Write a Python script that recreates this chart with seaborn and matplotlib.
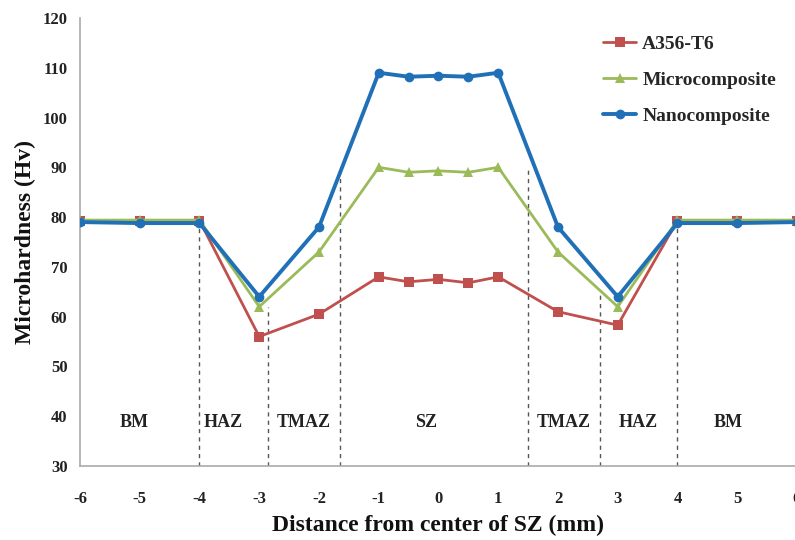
import matplotlib
matplotlib.use("Agg")
import matplotlib.pyplot as plt
import seaborn as sns
import pandas as pd

# Distance from the stir-zone centre (mm)
distance = [-6, -5, -4, -3, -2, -1, -0.5, 0, 0.5, 1, 2, 3, 4, 5, 6]

# Microhardness (Hv) for each material
a356_t6 = [79.3, 79.3, 79.3, 56.0, 60.5, 68.0, 67.0, 67.5, 66.8, 68.0, 61.0, 58.3, 79.3, 79.3, 79.3]
micro = [79.4, 79.4, 79.4, 62.0, 73.0, 90.0, 89.0, 89.3, 89.0, 90.0, 73.0, 62.0, 79.4, 79.4, 79.4]
nano = [79.0, 78.8, 78.8, 64.0, 78.0, 109.0, 108.2, 108.4, 108.2, 109.0, 78.0, 64.0, 78.8, 78.8, 79.0]

series_names = ["A356-T6", "Microcomposite", "Nanocomposite"]

# Zone boundaries (x position, height of dashed divider)
boundary_x = [-4, -2.85, -1.65, 1.5, 2.7, 4]
boundary_top = [79, 62, 90, 90, 65, 79]

# Zone names and their label centres
zone_names = ["BM", "HAZ", "TMAZ", "SZ", "TMAZ", "HAZ", "BM"]
zone_x = [-5.1, -3.6, -2.25, -0.2, 2.1, 3.35, 4.85]

x_ticks = list(range(-6, 7))
y_ticks = list(range(30, 121, 10))

df = pd.concat([
    pd.DataFrame({"Distance": distance, "Hv": vals, "Material": name})
    for name, vals in zip(series_names, [a356_t6, micro, nano])
])

sns.set_style("white")
plt.rcParams["font.family"] = ["Liberation Serif", "DejaVu Serif"]
plt.rcParams["font.weight"] = "bold"

fig = plt.figure(figsize=(7.95, 5.4), dpi=100)
ax = fig.add_axes([0.1006, 0.137, 0.9019, 0.8297])

palette = {"A356-T6": "#C0504D", "Microcomposite": "#9BBB59", "Nanocomposite": "#2070B8"}
markers = {"A356-T6": "s", "Microcomposite": "^", "Nanocomposite": "o"}
sizes = {"A356-T6": 2.0, "Microcomposite": 2.0, "Nanocomposite": 2.8}

for name in series_names:
    sub = df[df["Material"] == name]
    sns.lineplot(data=sub, x="Distance", y="Hv", ax=ax, color=palette[name],
                 marker=markers[name], markersize=7, markeredgewidth=0,
                 linewidth=sizes[name], label=name, zorder=3)

for bx, top in zip(boundary_x, boundary_top):
    ax.plot([bx, bx], [30, top], linestyle=(0, (3, 3)), color="#555555",
            linewidth=1.0, zorder=1)

for zx, zn in zip(zone_x, zone_names):
    ax.text(zx, 38.8, zn, ha="center", va="center", fontsize=13,
            fontweight="bold", color="#222222")

ax.set_xlim(-6, 6)
ax.set_ylim(30, 120)
ax.set_xticks(x_ticks)
ax.set_xticklabels([str(v) for v in x_ticks])
ax.set_yticks(y_ticks)
ax.tick_params(axis="both", labelsize=12, colors="#222222", length=4,
               direction="out", color="#999999")
ax.tick_params(axis="x", pad=14)
ax.tick_params(axis="y", pad=5)
for lab in ax.get_xticklabels() + ax.get_yticklabels():
    lab.set_fontweight("bold")

for side in ["top", "right"]:
    ax.spines[side].set_visible(False)
for side in ["left", "bottom"]:
    ax.spines[side].set_color("#aaaaaa")
    ax.spines[side].set_linewidth(1.2)

ax.set_xlabel("Distance from center of SZ (mm)", fontsize=17, fontweight="bold",
              color="#111111", labelpad=6)
ax.set_ylabel("Microhardness (Hv)", fontsize=17, fontweight="bold",
              color="#111111", labelpad=5)

leg = ax.legend(loc="upper right", bbox_to_anchor=(0.995, 1.0), frameon=False,
                fontsize=14, handlelength=1.7, labelspacing=0.95, handletextpad=0.3)
for t in leg.get_texts():
    t.set_fontweight("bold")

fig.savefig("out.png", dpi=100)
